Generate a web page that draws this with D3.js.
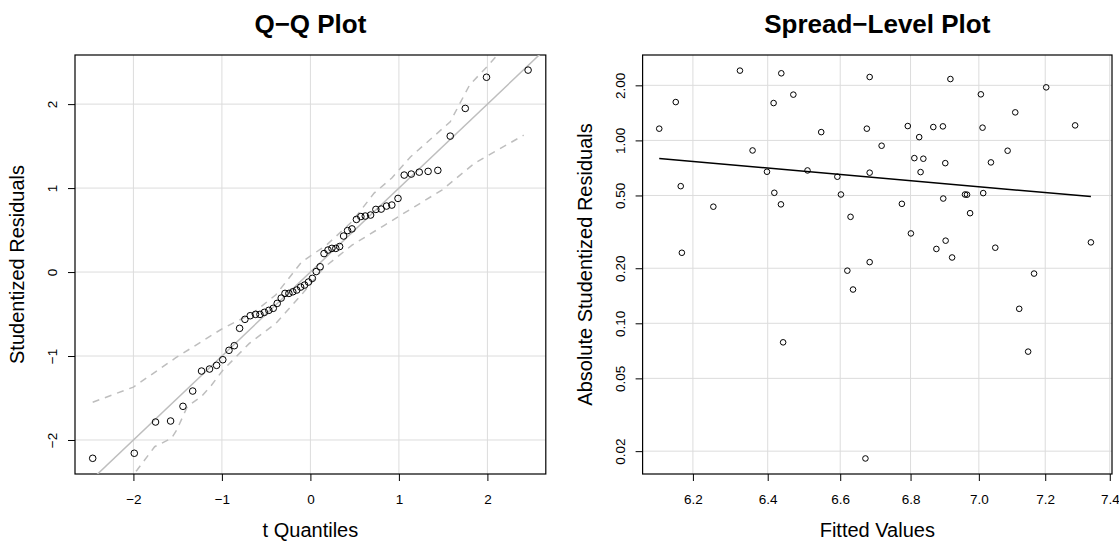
<!DOCTYPE html>
<html lang="en">

<head>
    <meta charset="UTF-8">
    <title>Q-Q Plot / Spread-Level Plot</title>
    <script src="https://cdnjs.cloudflare.com/ajax/libs/d3/7.9.0/d3.min.js"></script>
    <style>
        body {
            margin: 0;
            background: #fff;
            font-family: 'Liberation Sans', Arial, Helvetica, sans-serif;
        }
    </style>
</head>

<body>
    <div id="root"></div>
    <script>
        // Q-Q data: t quantiles vs studentized residuals
        const qqX = [-2.46, -1.99, -1.75, -1.58, -1.44, -1.33, -1.23, -1.14, -1.06, -0.99, -0.92, -0.86, -0.80, -0.74, -0.68, -0.62, -0.57, -0.52, -0.47, -0.42,
            -0.375, -0.33, -0.287, -0.243, -0.199, -0.154, -0.11, -0.066, -0.022, 0.022, 0.066, 0.11, 0.154, 0.199, 0.243, 0.287, 0.33, 0.375,
            0.42, 0.47, 0.52, 0.57, 0.62, 0.68, 0.74, 0.80, 0.86, 0.92, 0.99, 1.06, 1.14, 1.23, 1.33, 1.44, 1.58, 1.75, 1.99, 2.46]
        const qqY = [-2.218, -2.158, -1.786, -1.774, -1.599, -1.417, -1.179, -1.155, -1.111, -1.044, -0.932, -0.877, -0.670, -0.563, -0.520, -0.504, -0.504, -0.480, -0.456, -0.432,
            -0.373, -0.31, -0.254, -0.254, -0.235, -0.214, -0.179, -0.155, -0.119, -0.075, 0.006, 0.063, 0.220, 0.262, 0.282, 0.282, 0.304, 0.429,
            0.494, 0.514, 0.627, 0.661, 0.667, 0.679, 0.746, 0.750, 0.786, 0.798, 0.877, 1.155, 1.167, 1.190, 1.199, 1.211, 1.619, 1.949, 2.32, 2.405]
        const qqLine = { x: [-2.66, 2.66], y: [-2.66, 2.66] }
        const upperX = [-2.46, -2.0, -1.52, -0.99, -0.65, -0.39, -0.10, 0.18, 0.47, 0.72, 0.92, 1.13, 1.58, 1.80, 2.0, 2.46]
        const upperY = [-1.55, -1.37, -1.02, -0.67, -0.49, -0.27, 0.12, 0.32, 0.60, 0.94, 1.12, 1.37, 1.79, 2.23, 2.45, 3.0]
        const lowerX = [-2.46, -1.96, -1.76, -1.57, -1.51, -1.39, -1.23, -1.12, -0.99, -0.69, -0.39, -0.10, 0.15, 0.47, 0.84, 1.18, 1.49, 1.86, 2.41]
        const lowerY = [-2.95, -2.36, -2.08, -1.98, -1.88, -1.60, -1.48, -1.35, -1.17, -0.85, -0.61, -0.27, 0.05, 0.32, 0.56, 0.78, 0.98, 1.30, 1.63]
        const qqTicks = [-2, -1, 0, 1, 2]

        // Spread-level data: fitted values vs absolute studentized residuals
        const fitted = [6.112, 6.155, 6.168, 6.171, 6.254, 6.325, 6.359, 6.398, 6.416, 6.418, 6.436, 6.437, 6.470, 6.509, 6.547, 6.592, 6.602, 6.620, 6.629, 6.675,
            6.683, 6.683, 6.683, 6.717, 6.775, 6.792, 6.801, 6.811, 6.825, 6.829, 6.837, 6.866, 6.875, 6.894, 6.895, 6.901, 6.902, 6.916, 6.921, 6.959,
            6.965, 6.974, 7.006, 7.011, 7.013, 7.036, 7.049, 7.086, 7.109, 7.121, 7.148, 7.166, 7.203, 7.292, 7.341, 6.442, 6.671, 6.636]
        const absRes = [1.159, 1.620, 0.562, 0.243, 0.434, 2.407, 0.881, 0.674, 1.600, 0.517, 0.447, 2.327, 1.779, 0.685, 1.110, 0.633, 0.506, 0.194, 0.382, 1.159,
            2.221, 0.666, 0.216, 0.935, 0.450, 1.198, 0.310, 0.800, 1.042, 0.671, 0.794, 1.183, 0.255, 1.193, 0.481, 0.751, 0.283, 2.165, 0.229, 0.506,
            0.505, 0.400, 1.786, 1.174, 0.515, 0.758, 0.259, 0.878, 1.423, 0.120, 0.070, 0.187, 1.950, 1.208, 0.277, 0.0787, 0.01824, 0.153]
        const fitLine = { x: [6.112, 7.341], y: [0.797, 0.493] }
        const slXTicks = [6.2, 6.4, 6.6, 6.8, 7.0, 7.2, 7.4]
        const slYTicks = [0.02, 0.05, 0.10, 0.20, 0.50, 1.00, 2.00]

        const w = 1119
        const h = 541
        const tickFont = '13.5px'
        const labFont = '20px'
        const titleFont = '26px'

        const svg = d3.select('#root')
            .append('svg')
            .attr('width', w)
            .attr('height', h)

        // draws one panel: grid, axes, box, labels
        function panel(id, box, x, y, xTicks, yTicks, xFmt, yFmt, title, xlab, ylab) {
            const g = svg.append('g').attr('id', id)

            g.append('clipPath').attr('id', id + '-clip')
                .append('rect')
                .attr('x', box.left).attr('y', box.top)
                .attr('width', box.right - box.left).attr('height', box.bottom - box.top)

            // grid
            g.append('g').selectAll('line').data(xTicks).enter().append('line')
                .attr('x1', d => x(d)).attr('x2', d => x(d))
                .attr('y1', box.top).attr('y2', box.bottom)
                .style('stroke', '#dcdcdc').style('stroke-width', 1)
            g.append('g').selectAll('line').data(yTicks).enter().append('line')
                .attr('y1', d => y(d)).attr('y2', d => y(d))
                .attr('x1', box.left).attr('x2', box.right)
                .style('stroke', '#dcdcdc').style('stroke-width', 1)

            // X axis
            const xa = g.append('g')
                .attr('transform', `translate(0, ${box.bottom})`)
                .call(d3.axisBottom(x).tickValues(xTicks).tickFormat(xFmt).tickSize(7))
            xa.select('.domain').remove()
            xa.selectAll('text').attr('y', 30).attr('dy', 0)
                .style('font-size', tickFont).style('font-family', 'inherit')

            // Y axis
            const ya = g.append('g')
                .attr('transform', `translate(${box.left}, 0)`)
                .call(d3.axisLeft(y).tickValues(yTicks).tickFormat(yFmt).tickSize(7))
            ya.select('.domain').remove()
            ya.selectAll('text')
                .attr('transform', 'rotate(-90)')
                .attr('x', 0).attr('y', -18).attr('dy', 0)
                .attr('text-anchor', 'middle')
                .style('font-size', tickFont).style('font-family', 'inherit')

            // box
            g.append('rect')
                .attr('x', box.left).attr('y', box.top)
                .attr('width', box.right - box.left).attr('height', box.bottom - box.top)
                .style('fill', 'none').style('stroke', '#000').style('stroke-width', 1.2)

            const cx = (box.left + box.right) / 2
            const cy = (box.top + box.bottom) / 2
            g.append('text').text(title)
                .attr('x', cx).attr('y', 33).attr('text-anchor', 'middle')
                .style('font-size', titleFont).style('font-weight', 'bold')
            g.append('text').text(xlab)
                .attr('x', cx).attr('y', 536.5).attr('text-anchor', 'middle')
                .style('font-size', labFont)
            g.append('text').text(ylab)
                .attr('transform', `translate(${box.left - 51}, ${cy}) rotate(-90)`)
                .attr('text-anchor', 'middle')
                .style('font-size', labFont)
            return g
        }

        // Q-Q Plot
        const qqBox = { left: 75, right: 545.8, top: 55, bottom: 474 }
        const xQ = d3.scaleLinear().domain([-2.66, 2.66]).range([qqBox.left, qqBox.right])
        const yQ = d3.scaleLinear().domain([-2.405, 2.585]).range([qqBox.bottom, qqBox.top])
        const qq = panel('qq', qqBox, xQ, yQ, qqTicks, qqTicks, d3.format('d'), d3.format('d'),
            'Q\u2212Q Plot', 't Quantiles', 'Studentized Residuals')

        const qqLines = qq.append('g').attr('clip-path', 'url(#qq-clip)')
        const line = d3.line().x(d => xQ(d[0])).y(d => yQ(d[1]))
        qqLines.append('path')
            .attr('d', line(d3.zip(qqLine.x, qqLine.y)))
            .style('fill', 'none').style('stroke', '#bebebe').style('stroke-width', 1.5)
        qqLines.append('path')
            .attr('d', line(d3.zip(upperX, upperY)))
            .style('fill', 'none').style('stroke', '#bebebe').style('stroke-width', 1.5)
            .style('stroke-dasharray', '7,6')
        qqLines.append('path')
            .attr('d', line(d3.zip(lowerX, lowerY)))
            .style('fill', 'none').style('stroke', '#bebebe').style('stroke-width', 1.5)
            .style('stroke-dasharray', '7,6')

        qq.append('g').selectAll('circle')
            .data(d3.zip(qqX, qqY))
            .enter()
            .append('circle')
            .attr('cx', d => xQ(d[0]))
            .attr('cy', d => yQ(d[1]))
            .attr('r', 3.3)
            .style('fill', 'none').style('stroke', '#000').style('stroke-width', 1)

        // Spread-Level Plot (log-log)
        const slBox = { left: 642.6, right: 1112, top: 55, bottom: 474 }
        const xS = d3.scaleLog().domain([6.069, 7.407]).range([slBox.left, slBox.right])
        const yS = d3.scaleLog().domain([0.0150, 2.93]).range([slBox.bottom, slBox.top])
        const sl = panel('sl', slBox, xS, yS, slXTicks, slYTicks, d3.format('.1f'), d3.format('.2f'),
            'Spread\u2212Level Plot', 'Fitted Values', 'Absolute Studentized Residuals')

        sl.append('g').selectAll('circle')
            .data(d3.zip(fitted, absRes))
            .enter()
            .append('circle')
            .attr('cx', d => xS(d[0]))
            .attr('cy', d => yS(d[1]))
            .attr('r', 2.8)
            .style('fill', 'none').style('stroke', '#000').style('stroke-width', 1)

        sl.append('path')
            .attr('d', d3.line().x(d => xS(d[0])).y(d => yS(d[1]))(d3.zip(fitLine.x, fitLine.y)))
            .style('fill', 'none').style('stroke', '#000').style('stroke-width', 1.5)
    </script>
</body>

</html>
